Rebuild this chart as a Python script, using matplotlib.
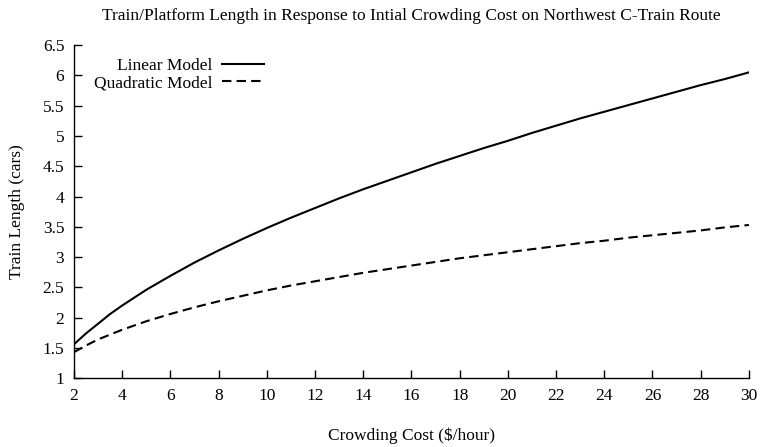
import matplotlib
matplotlib.use("Agg")
import matplotlib.pyplot as plt

# crowding cost ($/hour) and train length (cars)
cost = [2, 2.5, 3, 3.5] + list(range(4, 31))
linear_model = [1.56, 1.74, 1.90, 2.06, 2.20, 2.46, 2.69, 2.91, 3.11, 3.30,
                3.48, 3.65, 3.81, 3.97, 4.12, 4.26, 4.40, 4.54, 4.67, 4.80,
                4.92, 5.05, 5.17, 5.29, 5.40, 5.51, 5.62, 5.73, 5.84, 5.94,
                6.05]
quadratic_model = [1.43, 1.54, 1.64, 1.72, 1.80, 1.94, 2.06, 2.17, 2.27, 2.36,
                   2.45, 2.53, 2.60, 2.67, 2.74, 2.80, 2.86, 2.92, 2.98, 3.03,
                   3.08, 3.13, 3.18, 3.23, 3.27, 3.32, 3.36, 3.40, 3.44, 3.49,
                   3.53]
xticks = list(range(2, 31, 2))
yticks = [1, 1.5, 2, 2.5, 3, 3.5, 4, 4.5, 5, 5.5, 6, 6.5]

plt.rcParams["font.family"] = ["Liberation Serif", "DejaVu Serif"]
plt.rcParams["font.size"] = 12.5

fig = plt.figure(figsize=(7.6, 4.47), dpi=100)
ax = fig.add_axes([0.0974, 0.154, 0.888, 0.745])

ax.plot(cost, linear_model, color="black", lw=1.5, label="Linear Model")
ax.plot(cost, quadratic_model, color="black", lw=1.5, dashes=(4.5, 2.5),
        label="Quadratic Model")

ax.set_xlim(2, 30)
ax.set_ylim(1, 6.5)
ax.set_xticks(xticks)
ax.set_yticks(yticks)
ax.set_yticklabels([f"{v:g}" for v in yticks])
ax.tick_params(direction="in", length=6, width=1, pad=7, colors="black")
for side in ("top", "right"):
    ax.spines[side].set_visible(False)
for side in ("left", "bottom"):
    ax.spines[side].set_linewidth(1)

ax.set_xlabel("Crowding Cost (\\$/hour)", labelpad=17)
ax.set_ylabel("Train Length (cars)", labelpad=13)
ax.set_title("Train/Platform Length in Response to Intial Crowding Cost on Northwest C-Train Route",
             fontsize=12.5, pad=18)

leg = ax.legend(loc="upper right", bbox_to_anchor=(264 / 760, 1 - 58 / 447),
                bbox_transform=fig.transFigure, frameon=False,
                markerfirst=False, handlelength=2.4, handletextpad=0.55,
                labelspacing=0.05, borderaxespad=0, borderpad=0)
for t in leg.get_texts():
    t.set_ha("right")

fig.savefig("out.png", dpi=100)
